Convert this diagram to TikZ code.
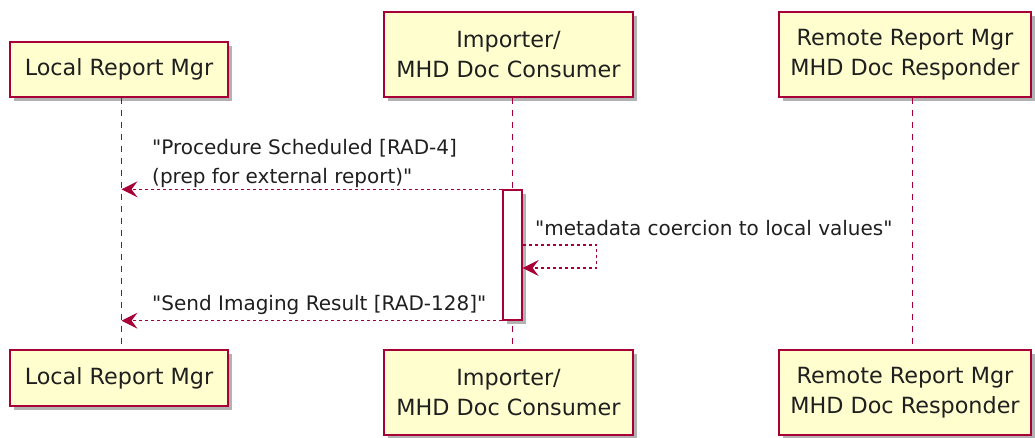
\documentclass[tikz,border=0pt]{standalone}
\usepackage{fontspec}
\setmainfont{DejaVu Sans}[Ligatures=TeXOff]
\usetikzlibrary{arrows.meta,shadows}
\definecolor{umlborder}{HTML}{A80036}
\definecolor{umlfill}{HTML}{FEFECE}
\begin{document}
\begin{tikzpicture}[x=1pt,y=-1pt,
  umlshadow/.style={drop shadow={shadow xshift=4pt,shadow yshift=-4pt,fill=black!55,opacity=0.55}},
  participant/.style={draw=umlborder,fill=umlfill,line width=1.4pt,align=center,
    inner sep=0pt,text=black!88,font=\fontsize{22.3}{30}\selectfont,umlshadow},
  lifeline/.style={umlborder,line width=1.4pt,dash pattern=on 6pt off 6pt},
  actbox/.style={draw=umlborder,fill=white,line width=1.3pt,inner sep=0pt,
    minimum width=19pt,minimum height=130pt,umlshadow},
  msg/.style={umlborder,line width=1.3pt,dash pattern=on 3pt off 3pt,
    -{Stealth[length=16pt,width=16pt,inset=6pt]}},
  msgtext/.style={inner sep=0pt,align=left,text=black!88,font=\fontsize{20}{29}\selectfont}
]
\useasboundingbox (0,0) rectangle (1035,437);

% lifeline positions
\coordinate (L) at (121.5,0);
\coordinate (I) at (512.5,0);
\coordinate (R) at (912.5,0);

% participants, top row
\node[participant,minimum width=218pt,minimum height=55pt] (lrmTop) at (119,69.5) {Local Report Mgr};
\node[participant,minimum width=249pt,minimum height=85pt] (impTop) at (508.5,54.5) {Importer/\\MHD Doc Consumer};
\node[participant,minimum width=252pt,minimum height=85pt] (remTop) at (905,54.5) {Remote Report Mgr\\MHD Doc Responder};

% participants, bottom row
\node[participant,minimum width=218pt,minimum height=56pt] (lrmBot) at (119,378) {Local Report Mgr};
\node[participant,minimum width=249pt,minimum height=85pt] (impBot) at (508.5,392.5) {Importer/\\MHD Doc Consumer};
\node[participant,minimum width=252pt,minimum height=85pt] (remBot) at (905,392.5) {Remote Report Mgr\\MHD Doc Responder};

% lifelines
\draw[lifeline] (lrmTop.south -| L) -- (lrmBot.north -| L);
\draw[lifeline] (impTop.south -| I) -- (impBot.north -| I);
\draw[lifeline] (remTop.south -| R) -- (remBot.north -| R);

% activation of the importer
\node[actbox] (act) at (512.5,255) {};

% messages
\draw[msg] (act.north west) -- (act.north west -| L);
\node[msgtext,anchor=south west] (m1) at (152,188) {"Procedure Scheduled [RAD-4]\\(prep for external report)"};

\coordinate (selfOut) at (act.east |- 0,245);
\coordinate (selfIn) at (act.east |- 0,268);
\draw[msg] (selfOut) -- ++(74,0) |- (selfIn);
\node[msgtext,anchor=base west] (m2) at (535,235) {"metadata coercion to local values"};

\draw[msg] (act.south west) -- (act.south west -| L);
\node[msgtext,anchor=base west] (m3) at (152,310) {"Send Imaging Result [RAD-128]"};
\end{tikzpicture}
\end{document}
